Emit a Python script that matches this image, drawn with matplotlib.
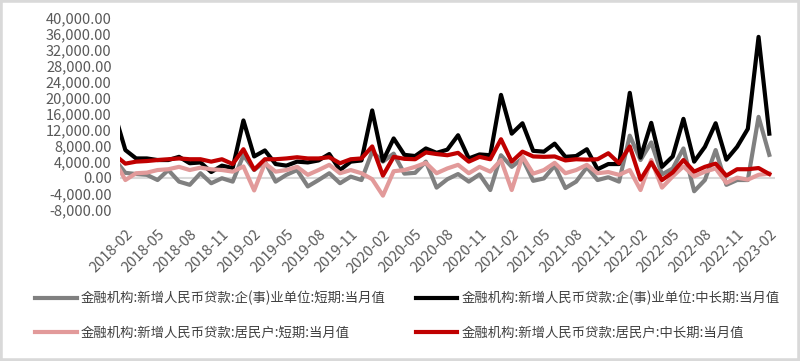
import matplotlib
matplotlib.use("Agg")
import matplotlib.pyplot as plt
from matplotlib.patches import Rectangle
from matplotlib.ticker import FuncFormatter, FixedLocator

plt.rcParams['font.family'] = ['Noto Sans CJK SC', 'DejaVu Sans']

# 月份：2018-01 ~ 2023-02（首月在图框左侧被截掉）
months = ["%d-%02d" % (2018 + (i // 12), i % 12 + 1) for i in range(62)]

corp_short = [4600, 1200, 900, 700, -600, 1900, -1000, -1800, 1100, -1400, -150, -1000,
              5600, 1900, 4000, -1000, 700, 1900, -2200, -600, 1100, -1400, 250, -600,
              6500, 4000, 6000, 1000, 1200, 4000, -2500, -400, 900, -1000, 800, -3100,
              5600, 2700, 4800, -800, -200, 3000, -2600, -1000, 2600, -600, 100, -1000,
              10500, 4400, 8800, 800, 2300, 7300, -3400, -600, 6900, -1800, -600, -600,
              15200, 5700]
corp_long = [16000, 6900, 4800, 4800, 4400, 4400, 5200, 3600, 3800, 1400, 3000, 2400,
             14300, 5300, 6800, 3400, 3000, 4000, 3800, 4300, 5900, 1900, 4000, 4300,
             16800, 4200, 9800, 5700, 5400, 7300, 6200, 7000, 10600, 4800, 5800, 5600,
             20700, 11000, 13600, 6700, 6500, 8500, 5200, 5400, 7100, 2100, 3400, 3400,
             21200, 5000, 13700, 2700, 5300, 14700, 4000, 7700, 13600, 4500, 7700, 12200,
             35200, 11000]
hh_short = [4300, -600, 1100, 1250, 1900, 2100, 2700, 1900, 2500, 2100, 1900, 1500,
            2800, -3200, 3600, 1500, 1900, 2700, 700, 1900, 3200, 1100, 1900, 1100,
            -400, -4500, 1600, 1900, 2700, 3700, 1100, 2300, 3200, 1100, 2700, 1500,
            4400, -3100, 5300, 1000, 1900, 3700, 1100, 1900, 3200, 1100, 1400, 700,
            1900, -3100, 4400, -2500, 300, 2800, 300, 1500, 2300, -1300, 0, -500,
            700, 1000]
hh_long = [5700, 3500, 4000, 4150, 4400, 4600, 4800, 4600, 4600, 4000, 4600, 3400,
           7100, 2000, 4600, 4600, 4800, 5100, 4800, 4800, 5100, 3600, 4600, 4800,
           7800, 500, 5200, 4700, 4600, 6300, 5900, 5600, 6200, 4000, 5200, 4600,
           9600, 4000, 6500, 5300, 5200, 5300, 4300, 4600, 4500, 4600, 6100, 3600,
           7800, -500, 3800, -600, 1300, 4400, 1500, 2700, 3500, 500, 2100, 2100,
           2400, 900]

labels = ["金融机构:新增人民币贷款:企(事)业单位:短期:当月值",
          "金融机构:新增人民币贷款:企(事)业单位:中长期:当月值",
          "金融机构:新增人民币贷款:居民户:短期:当月值",
          "金融机构:新增人民币贷款:居民户:中长期:当月值"]
colors = ['#808080', '#000000', '#e29a9a', '#c00000']
series = [corp_short, corp_long, hh_short, hh_long]

fig = plt.figure(figsize=(8, 3.61), dpi=100)
ax = fig.add_axes([0.15, 0.416, 0.819, 0.535])

x = list(range(len(months)))
ax.axhline(0, color='#d9d9d9', lw=1.5, zorder=1)
lines = []
for s, c, lab in zip(series, colors, labels):
    ln, = ax.plot(x, s, color=c, lw=3, label=lab, zorder=2)
    lines.append(ln)

ax.set_xlim(0.5, 61.55)
ax.set_ylim(-8300, 40000)
ax.yaxis.set_major_locator(FixedLocator(list(range(-8000, 40001, 4000))))
ax.yaxis.set_major_formatter(FuncFormatter(lambda v, p: "{:,.2f}".format(v)))
ticks = list(range(1, 62, 3))
ax.set_xticks(ticks)
ax.set_xticklabels([months[i] for i in ticks], rotation=45, ha='right',
                   rotation_mode='anchor')
ax.tick_params(axis='both', length=0, labelsize=10.5, colors='#595959')
ax.tick_params(axis='y', pad=6)
ax.tick_params(axis='x', pad=12)
for sp in ax.spines.values():
    sp.set_visible(False)

order = [0, 2, 1, 3]
fig.legend([lines[i] for i in order], [labels[i] for i in order],
           ncol=2, loc='upper left', bbox_to_anchor=(0.044, 0.195),
           frameon=False, fontsize=9.6, handlelength=3.1, handletextpad=0.3,
           columnspacing=2.3, labelspacing=1.55, borderpad=0, borderaxespad=0,
           labelcolor='#404040')

fig.patches.append(Rectangle((0, 0), 1, 1, transform=fig.transFigure, fill=False,
                             edgecolor='#d9d9d9', lw=4))

fig.savefig('out.png', dpi=100)
